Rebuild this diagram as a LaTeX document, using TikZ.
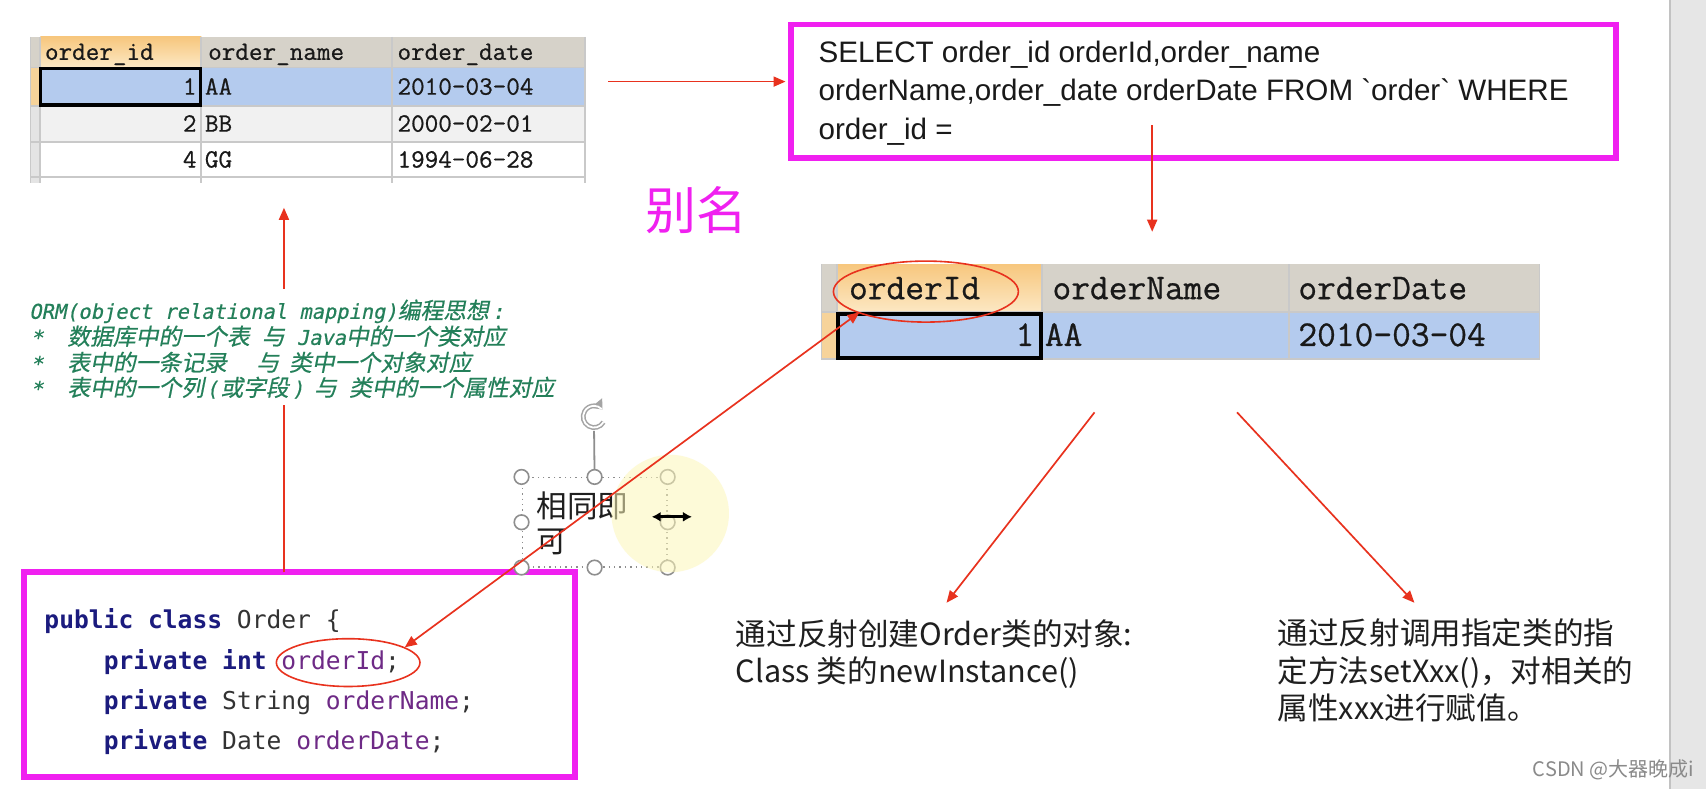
\documentclass[tikz,border=0pt]{standalone}
\usepackage{fontspec}
\newfontfamily\sqlfont{Liberation Sans}
\newfontfamily\jmono{DejaVu Sans Mono}
\newfontfamily\tabmono[FakeBold=0.7]{Latin Modern Mono}
\newfontfamily\ormmono[FakeSlant=0.2,FakeBold=0.5]{DejaVu Sans Mono}
\newfontfamily\cjk{Noto Sans CJK SC}
\newfontfamily\cjkit[FakeSlant=0.2,FakeBold=0.5]{Noto Sans CJK SC}
\usetikzlibrary{arrows.meta,shapes.geometric,fit}
\definecolor{mag}{HTML}{F020F0}
\definecolor{arrred}{HTML}{E8321E}
\definecolor{hdrgray}{HTML}{D6D2C9}
\definecolor{orgtop}{HTML}{F7C77E}
\definecolor{orgbot}{HTML}{FCE8C4}
\definecolor{orgstrip}{HTML}{F6D39A}
\definecolor{selblue}{HTML}{B4CBEE}
\definecolor{rowgray}{HTML}{F1F1F1}
\definecolor{stripgray}{HTML}{E6E6E6}
\definecolor{stripline}{HTML}{C2C2C2}
\definecolor{cellstrip}{HTML}{E4E4E4}
\definecolor{gridc}{HTML}{C9C9C9}
\definecolor{ormgreen}{HTML}{24805A}
\definecolor{navy}{HTML}{1B1B7E}
\definecolor{purp}{HTML}{6E2A86}
\definecolor{codegray}{HTML}{333333}
\definecolor{hgray}{HTML}{8E8E8E}
\definecolor{glow}{HTML}{FDF6B8}
\definecolor{wmgray}{HTML}{8A8A8A}
\newcommand{\ormM}[1]{{\ormmono\fontsize{10.2}{12}\selectfont #1}}
\newcommand{\ormC}[1]{{\cjkit\fontsize{11.4}{13}\selectfont #1}}
\begin{document}
\begin{tikzpicture}[x=0.544pt,y=-0.544pt,
  redarrow/.style={draw=arrred, line width=0.85pt, -{Triangle[length=6pt,width=5pt]}},
  redboth/.style={draw=arrred, line width=0.85pt, {Triangle[length=6pt,width=5pt]}-{Triangle[length=6pt,width=5pt]}},
  magbox/.style={draw=mag, line width=2.8pt, inner sep=0},
  plainfit/.style={inner sep=0},
  handle/.style={circle, draw=hgray, fill=white, line width=0.8pt, minimum size=7.3pt, inner sep=0},
  tone/.style={font=\tabmono\fontsize{13.2}{15}\selectfont, inner sep=0, text=black!90},
  ttwo/.style={font=\tabmono\fontsize{18.2}{21}\selectfont, inner sep=0, text=black!90},
  sqltxt/.style={font=\sqlfont\fontsize{14.8}{18}\selectfont, inner sep=0, text=black!90, anchor=base west},
  javatxt/.style={font=\jmono\fontsize{12.3}{14}\selectfont, inner sep=0, anchor=base west},
  ormline/.style={inner sep=0, anchor=base west, text=ormgreen},
  cjktxt/.style={font=\cjk\fontsize{15.3}{18}\selectfont, inner sep=0, anchor=base west, text=black!88},
  redell/.style={ellipse, draw=arrred, line width=0.8pt, inner sep=0}
]
\useasboundingbox (0,0) rectangle (1568,725);
\fill[white] (0,0) rectangle (1568,725);
% scrollbar strip
\fill[stripgray] (1535,0) rectangle (1568,725);
\draw[stripline, line width=1pt] (1535,0) -- (1535,725);

% ---------- table 1 ----------
\node[plainfit, fit={(28,34) (538,168)}] (tbl1) {};
\fill[hdrgray] (28,34) rectangle (538,62);
\shade[top color=orgtop, bottom color=orgbot] (37,34) rectangle (185,62);
\fill[orgstrip] (28,62) rectangle (37,97.5);
\fill[selblue] (37,62) rectangle (538,97.5);
\fill[rowgray] (37,97.5) rectangle (538,130.5);
\fill[cellstrip] (28,97.5) rectangle (37,168);
\draw[gridc, line width=0.9pt]
  (28,62) -- (538,62) (28,97.5) -- (538,97.5) (28,130.5) -- (538,130.5) (28,162.5) -- (538,162.5)
  (185,34) -- (185,168) (360,34) -- (360,168) (538,34) -- (538,168) (37,34) -- (37,168) (28,34) -- (28,168);
\draw[line width=1.6pt] (37.5,63) rectangle (184,96.5);
\node[tone, anchor=base west] (h11) at (41,55) {order\_id};
\node[tone, anchor=base west] (h12) at (191,55) {order\_name};
\node[tone, anchor=base west] (h13) at (365,55) {order\_date};
\node[tone, anchor=base east] (c11) at (181,87) {1};
\node[tone, anchor=base west] (c12) at (188,87) {AA};
\node[tone, anchor=base west] (c13) at (365,87) {2010-03-04};
\node[tone, anchor=base east] (c21) at (181,121) {2};
\node[tone, anchor=base west] (c22) at (188,121) {BB};
\node[tone, anchor=base west] (c23) at (365,121) {2000-02-01};
\node[tone, anchor=base east] (c31) at (181,154) {4};
\node[tone, anchor=base west] (c32) at (188,154) {GG};
\node[tone, anchor=base west] (c33) at (365,154) {1994-06-28};

% ---------- SQL box ----------
\node[magbox, fit={(727,22.5) (1485,145)}] (sql) {};
\node[sqltxt] (sql1) at (752,57) {SELECT order\_id orderId,order\_name};
\node[sqltxt] (sql2) at (752,92) {orderName,order\_date orderDate FROM `order` WHERE};
\node[sqltxt] (sql3) at (752,128) {order\_id =};
\coordinate (a1s) at (559,75);
\coordinate (a1e) at (722,75);
\draw[redarrow] (a1s) -- (a1e);

% ---------- alias label ----------
\node[font=\cjk\fontsize{25.5}{28}\selectfont, text=mag, inner sep=0, anchor=base west] (alias) at (593,211) {别名};

% ---------- table 2 ----------
\node[plainfit, fit={(755,243) (1415,330)}] (tbl2) {};
\fill[hdrgray] (755,243) rectangle (1415,287);
\shade[top color=orgtop, bottom color=orgbot] (769,243) rectangle (958,287);
\fill[orgstrip] (755,287) rectangle (769,330);
\fill[selblue] (769,287) rectangle (1415,330);
\draw[gridc, line width=0.9pt]
  (755,287) -- (1415,287) (755,330) -- (1415,330)
  (769,243) -- (769,330) (958,243) -- (958,330) (1185,243) -- (1185,330) (1415,243) -- (1415,330) (755,243) -- (755,330);
\draw[line width=1.8pt] (770,288.5) rectangle (957,329);
\node[ttwo, anchor=base west] (h21) at (780,275) {orderId};
\node[ttwo, anchor=base west] (h22) at (967,275) {orderName};
\node[ttwo, anchor=base west] (h23) at (1193,275) {orderDate};
\node[ttwo, anchor=base east] (d21) at (951,318) {1};
\node[ttwo, anchor=base west] (d22) at (960,318) {AA};
\node[ttwo, anchor=base west] (d23) at (1193,318) {2010-03-04};
\node[redell, minimum width=92.5pt, minimum height=30.5pt] (e1) at (851,268) {};

% SQL -> table 2
\coordinate (a2s) at (1059,115);
\coordinate (a2e) at (1059,213);
\draw[redarrow] (a2s) -- (a2e);

% ---------- Java box ----------
\node[magbox, fit={(22,526) (528.5,714)}] (java) {};
\node[javatxt] (j1) at (40.5,578) {{\bfseries\color{navy}public class} {\color{codegray}Order \{}};
\node[javatxt] (j2) at (95,615) {{\bfseries\color{navy}private int} {\color{purp}orderId}{\color{codegray};}};
\node[javatxt] (j3) at (95,652) {{\bfseries\color{navy}private} {\color{codegray}String} {\color{purp}orderName}{\color{codegray};}};
\node[javatxt] (j4) at (95,689) {{\bfseries\color{navy}private} {\color{codegray}Date} {\color{purp}orderDate}{\color{codegray};}};
\node[redell, minimum width=71.8pt, minimum height=23.9pt] (e2) at (320,609) {};

% Java -> table 1 (behind ORM text)
\coordinate (a3s) at (261,526);
\coordinate (a3e) at (261,191);
\draw[redarrow] (a3s) -- (a3e);

% ---------- ORM text ----------
\node[plainfit, fill=white, fit={(20,266) (512,372)}] (orm) {};
\node[ormline] (o1) at (26.5,293) {\ormM{ORM(object relational mapping)}\ormC{编程思想}\hspace{1.5pt}\ormM{:}};
\node[ormline] (o2s) at (28,317) {\ormM{*}};
\node[ormline] (o2) at (61.5,317) {\ormC{数据库中的一个表}\hspace{6.1pt}\ormC{与}\hspace{6.1pt}\ormM{Java}\ormC{中的一个类对应}};
\node[ormline] (o3s) at (28,341) {\ormM{*}};
\node[ormline] (o3) at (61.5,341) {\ormC{表中的一条记录}\hspace{14.7pt}\ormC{与}\hspace{5pt}\ormC{类中一个对象对应}};
\node[ormline] (o4s) at (28,364) {\ormM{*}};
\node[ormline] (o4) at (61.5,364) {\ormC{表中的一个列}\hspace{1pt}\ormM{(}\hspace{1pt}\ormC{或字段}\hspace{1.5pt}\ormM{)}\hspace{5pt}\ormC{与}\hspace{6.1pt}\ormC{类中的一个属性对应}};

% ---------- selected text box ----------
\node[plainfit, draw=hgray, dotted, line width=0.7pt, fit={(480,439) (613,521)}] (sel) {};
\coordinate (rotc) at (546,383);
\draw[hgray, line width=0.9pt] (sel.north) -- (546,396);
\draw[hgray!80, line width=2.4pt, -{Triangle[length=4.5pt,width=7pt]}] (rotc) ++(30:10) arc[start angle=30, end angle=320, radius=10];
\draw[white, line width=0.9pt] (rotc) ++(30:10) arc[start angle=30, end angle=315, radius=10];
\node[cjktxt] (st1) at (493,476) {相同即};
\node[cjktxt] (st2) at (493,508) {可};
\foreach \a/\n in {north west/h1, north/h2, north east/h3, west/h4, east/h5, south west/h6, south/h7, south east/h8}
  \node[handle] (\n) at (sel.\a) {};
\fill[glow, opacity=0.55] (616,472) circle[radius=54];
\coordinate (dbl1) at (599,475);
\coordinate (dbl2) at (636,475);
\draw[line width=1.4pt, {Latex[length=4.5pt,width=5pt]}-{Latex[length=4.5pt,width=5pt]}] (dbl1) -- (dbl2);

% Java field <-> table 2 column
\coordinate (b1) at (372,595);
\coordinate (b2) at (790,287);
\draw[redboth] (b1) -- (b2);

% ---------- bottom arrows and texts ----------
\coordinate (a4s) at (1006,379);
\coordinate (a4e) at (870,554);
\coordinate (a5s) at (1137,379);
\coordinate (a5e) at (1300,554);
\draw[redarrow] (a4s) -- (a4e);
\draw[redarrow] (a5s) -- (a5e);
\node[cjktxt] (l1) at (676,593) {通过反射创建Order类的对象:};
\node[cjktxt] (l2) at (676,627) {Class 类的newInstance()};
\node[cjktxt] (r1) at (1174,592) {通过反射调用指定类的指};
\node[cjktxt] (r2) at (1174,627) {定方法setXxx()，对相关的};
\node[cjktxt] (r3) at (1174,661) {属性xxx进行赋值。};

% watermark
\node[font=\cjk\fontsize{10}{12}\selectfont, text=wmgray, inner sep=0] (wm) at (1483,708) {CSDN @大器晚成i};
\end{tikzpicture}
\end{document}
